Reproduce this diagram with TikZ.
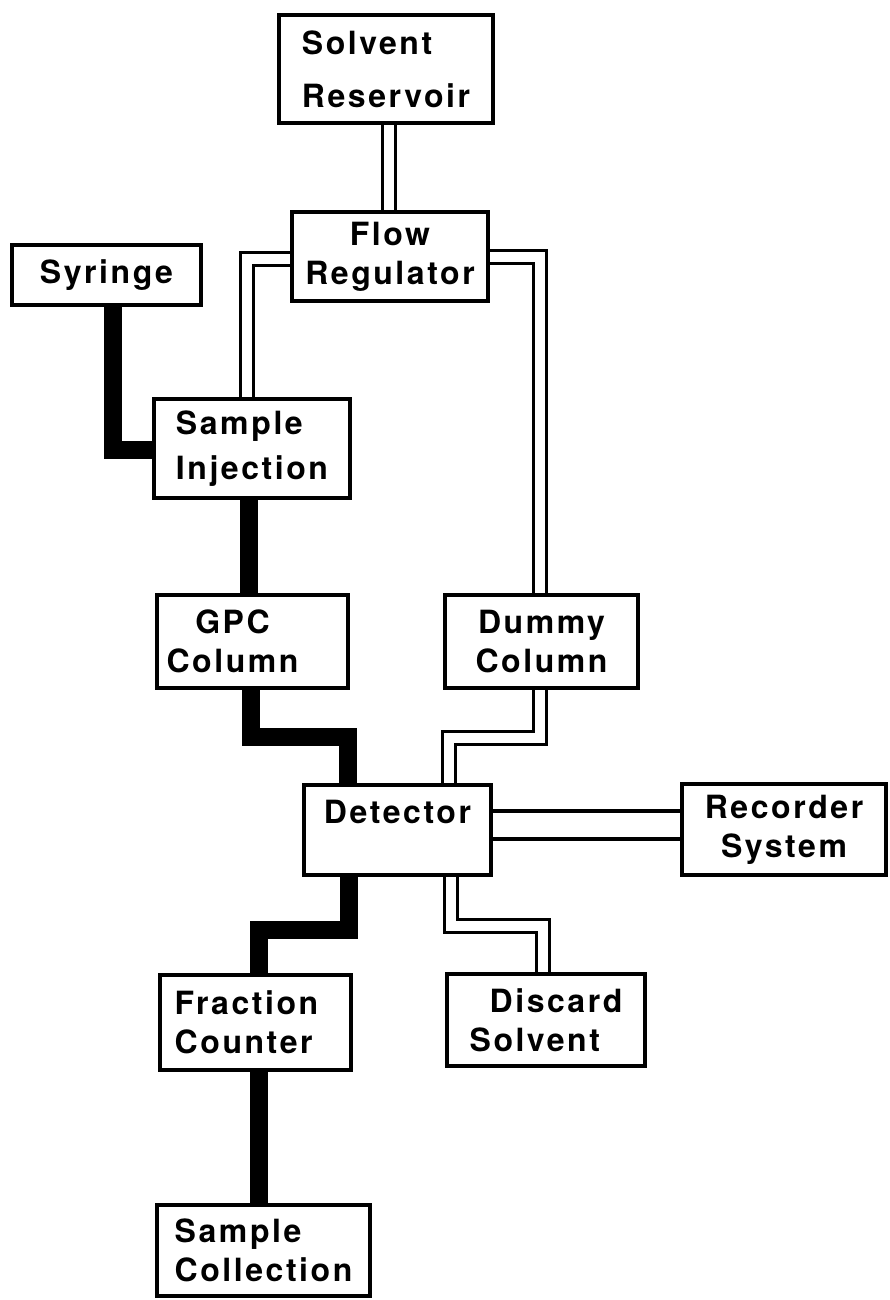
\documentclass[tikz,border=0pt]{standalone}
\usepackage{fontspec}
\setmainfont{TeX Gyre Heros}[LetterSpace=8]
\pgfdeclarelayer{bg}
\pgfsetlayers{bg,main}
\tikzset{
  box/.style={draw, line width=4pt, fill=white, inner sep=0pt,
    font=\fontsize{32}{39}\selectfont\bfseries},
  pipe/.style={draw, line width=3pt, double=white, double distance=10pt, line join=miter},
  widepipe/.style={pipe, line width=4pt, double distance=24pt},
  feed/.style={draw, line width=18pt, line join=miter},
}
\begin{document}
\begin{tikzpicture}[x=1pt, y=-1pt]
\useasboundingbox (0,0) rectangle (890,1300);
\begin{pgfonlayer}{bg}
\fill[white] (0,0) rectangle (890,1300);
\end{pgfonlayer}

\node[box, minimum width=214pt, minimum height=108pt, align=left] (sr) at (386,69) {Solvent\\[14pt]Reservoir};
\node[box, minimum width=196pt, minimum height=89pt, align=center] (fr) at (390,256.5) {Flow\\Regulator};
\node[box, minimum width=189pt, minimum height=60pt] (syr) at (106.5,275) {Syringe};
\node[box, minimum width=196pt, minimum height=99pt, align=left] (si) at (252,448.5) {Sample\\[6pt]Injection};
\node[box, minimum width=191pt, minimum height=93pt, align=center] (gpc) at (252.5,641.5) {GPC\rule{40pt}{0pt}\\Column\rule{40pt}{0pt}};
\node[box, minimum width=193pt, minimum height=93pt, align=center] (dum) at (541.5,641.5) {Dummy\\Column};
\node[box, minimum width=187pt, minimum height=90pt, text height=25pt, text depth=39pt] (det) at (397.5,830) {Detector};
\node[box, minimum width=204pt, minimum height=91pt, align=center] (rec) at (784,829.5) {Recorder\\System};
\node[box, minimum width=191pt, minimum height=95pt, align=left] (frac) at (255.5,1022.5) {Fraction\rule{18pt}{0pt}\\Counter};
\node[box, minimum width=198pt, minimum height=92pt, align=left] (dis) at (546,1020) {\hspace*{20pt}Discard\\Solvent};
\node[box, minimum width=213pt, minimum height=91pt, align=left] (sc) at (263.5,1250.5) {Sample\\Collection};

\begin{pgfonlayer}{bg}
\draw[pipe] ([xshift=2.5pt]sr.south) -- ([xshift=-1.5pt]fr.north);
\draw[pipe] ([yshift=-2.5pt]fr.west) -| ([xshift=-5pt]si.north);
\draw[pipe] (fr.east) -| ([xshift=-2pt]dum.north);
\draw[pipe] ([xshift=-2pt]dum.south) -- ++(0,48) -| ([xshift=51pt]det.north);
\draw[widepipe] ([yshift=5.5pt]det.east) -- ([yshift=5pt]rec.west);
\draw[pipe] ([xshift=53.5pt]det.south) -- ++(0,48.5) -| ([xshift=-3.5pt]dis.north);
\draw[feed] ([xshift=6.5pt]syr.south) |- ([yshift=-1.5pt]si.west);
\draw[feed] ([xshift=-3pt]si.south) -- ([xshift=-3.5pt]gpc.north);
\draw[feed] ([xshift=-1.5pt]gpc.south) -- ++(0,47) -| ([xshift=-50pt]det.north);
\draw[feed] ([xshift=-48.5pt]det.south) -- ++(0,53) -| ([xshift=3.5pt]frac.north);
\draw[feed] ([xshift=3.5pt]frac.south) -- ([xshift=-4.5pt]sc.north);
\end{pgfonlayer}
\end{tikzpicture}
\end{document}
